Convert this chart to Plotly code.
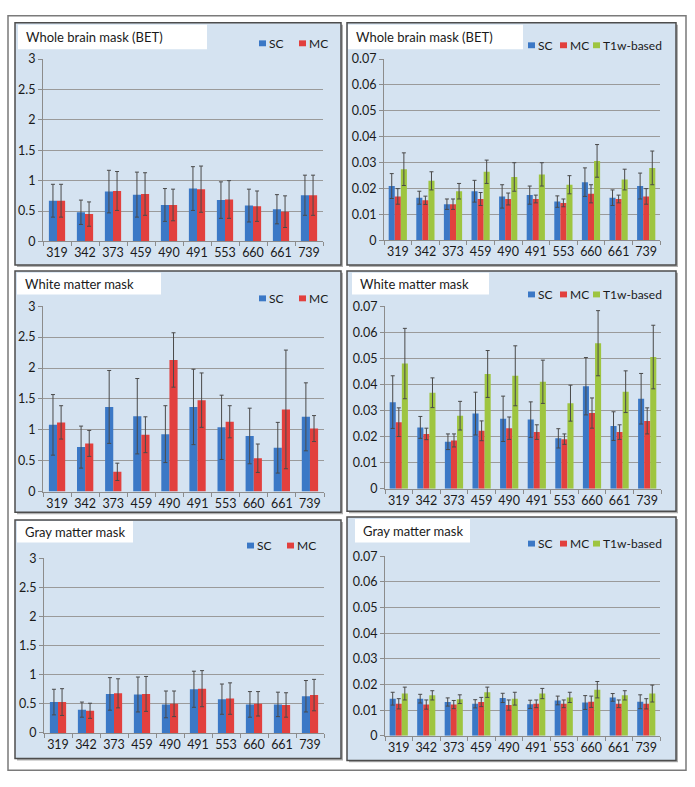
import plotly.graph_objects as go

W, H = 695, 787

subjects = ["319", "342", "373", "459", "490", "491", "553", "660", "661", "739"]

# Whole brain mask (BET) - left (scale 0-3)
wb_sc = [0.67, 0.48, 0.82, 0.77, 0.60, 0.87, 0.68, 0.59, 0.53, 0.76]
wb_sc_err = [0.27, 0.20, 0.35, 0.37, 0.27, 0.36, 0.30, 0.27, 0.24, 0.33]
wb_mc = [0.67, 0.45, 0.83, 0.78, 0.60, 0.86, 0.69, 0.58, 0.49, 0.76]
wb_mc_err = [0.27, 0.20, 0.32, 0.35, 0.26, 0.38, 0.31, 0.25, 0.26, 0.33]

# Whole brain mask (BET) - right (scale 0-0.07)
wb2_sc = [0.0210, 0.0165, 0.0140, 0.0190, 0.0170, 0.0175, 0.0150, 0.0225, 0.0165, 0.0210]
wb2_sc_err = [0.0048, 0.0025, 0.0020, 0.0042, 0.0045, 0.0035, 0.0022, 0.0055, 0.0030, 0.0050]
wb2_mc = [0.0170, 0.0155, 0.0140, 0.0160, 0.0160, 0.0160, 0.0145, 0.0180, 0.0160, 0.0170]
wb2_mc_err = [0.0030, 0.0016, 0.0020, 0.0025, 0.0023, 0.0015, 0.0015, 0.0035, 0.0015, 0.0030]
wb2_t1 = [0.0275, 0.0230, 0.0190, 0.0265, 0.0245, 0.0255, 0.0215, 0.0307, 0.0235, 0.0280]
wb2_t1_err = [0.0063, 0.0035, 0.0030, 0.0045, 0.0055, 0.0045, 0.0035, 0.0063, 0.0040, 0.0065]

# White matter mask - left
wm_sc = [1.08, 0.72, 1.37, 1.22, 0.93, 1.37, 1.04, 0.90, 0.71, 1.21]
wm_sc_err = [0.49, 0.34, 0.59, 0.61, 0.46, 0.61, 0.52, 0.45, 0.41, 0.55]
wm_mc = [1.12, 0.78, 0.32, 0.92, 2.13, 1.48, 1.13, 0.54, 1.33, 1.02]
wm_mc_err = [0.27, 0.21, 0.14, 0.29, 0.44, 0.44, 0.26, 0.23, 0.96, 0.21]

# White matter mask - right
wm2_sc = [0.0332, 0.0235, 0.0180, 0.0288, 0.0268, 0.0265, 0.0193, 0.0393, 0.0240, 0.0345]
wm2_sc_err = [0.0101, 0.0042, 0.0030, 0.0082, 0.0087, 0.0068, 0.0037, 0.0110, 0.0055, 0.0097]
wm2_mc = [0.0255, 0.0210, 0.0185, 0.0222, 0.0232, 0.0217, 0.0190, 0.0290, 0.0217, 0.0260]
wm2_mc_err = [0.0055, 0.0022, 0.0025, 0.0038, 0.0043, 0.0028, 0.0020, 0.0058, 0.0028, 0.0050]
wm2_t1 = [0.0480, 0.0368, 0.0280, 0.0440, 0.0433, 0.0410, 0.0328, 0.0558, 0.0372, 0.0505]
wm2_t1_err = [0.0135, 0.0057, 0.0055, 0.0090, 0.0115, 0.0083, 0.0069, 0.0125, 0.0080, 0.0122]

# Gray matter mask - left
gm_sc = [0.53, 0.40, 0.67, 0.66, 0.49, 0.75, 0.58, 0.49, 0.49, 0.63]
gm_sc_err = [0.22, 0.13, 0.28, 0.30, 0.23, 0.31, 0.26, 0.22, 0.21, 0.27]
gm_mc = [0.53, 0.38, 0.68, 0.67, 0.50, 0.76, 0.59, 0.50, 0.48, 0.65]
gm_mc_err = [0.23, 0.13, 0.25, 0.30, 0.22, 0.31, 0.27, 0.21, 0.21, 0.27]

# Gray matter mask - right
gm2_sc = [0.0145, 0.0145, 0.0132, 0.0125, 0.0148, 0.0123, 0.0138, 0.0130, 0.0150, 0.0133]
gm2_sc_err = [0.0025, 0.0017, 0.0016, 0.0016, 0.0018, 0.0016, 0.0017, 0.0027, 0.0015, 0.0027]
gm2_mc = [0.0125, 0.0122, 0.0122, 0.0132, 0.0120, 0.0125, 0.0125, 0.0133, 0.0125, 0.0125]
gm2_mc_err = [0.0020, 0.0018, 0.0016, 0.0018, 0.0020, 0.0015, 0.0015, 0.0022, 0.0015, 0.0020]
gm2_t1 = [0.0165, 0.0158, 0.0143, 0.0170, 0.0145, 0.0165, 0.0150, 0.0180, 0.0158, 0.0165]
gm2_t1_err = [0.0025, 0.0018, 0.0017, 0.0020, 0.0025, 0.0020, 0.0020, 0.0032, 0.0018, 0.0033]

titles = ["Whole brain mask (BET)", "Whole brain mask (BET)",
          "White matter mask", "White matter mask",
          "Gray matter mask", "Gray matter mask"]

C_SC = "#3b78c6"
C_MC = "#e2403e"
C_T1 = "#9ec540"
ERR = "#4a4a4a"
FONT = "Lato"

panels = [
    dict(box=(15, 15, 341, 262), plot=(43, 52, 323, 238), tbox=(18, 17, 207, 42),
         ymax=3, dtick=0.5, series=[(wb_sc, wb_sc_err, C_SC, "SC"), (wb_mc, wb_mc_err, C_MC, "MC")],
         leg_y=36, leg_x=[262, 302], bw=0.29),
    dict(box=(347, 15, 676, 262), plot=(384, 52, 660, 237), tbox=(348, 17, 523, 42),
         ymax=0.07, dtick=0.01,
         series=[(wb2_sc, wb2_sc_err, C_SC, "SC"), (wb2_mc, wb2_mc_err, C_MC, "MC"),
                 (wb2_t1, wb2_t1_err, C_T1, "T1w-based")],
         leg_y=38, leg_x=[531, 563, 596], bw=0.22),
    dict(box=(15, 268, 341, 514), plot=(43, 304, 324, 493), tbox=(17, 270, 161, 292),
         ymax=3, dtick=0.5, series=[(wm_sc, wm_sc_err, C_SC, "SC"), (wm_mc, wm_mc_err, C_MC, "MC")],
         leg_y=296, leg_x=[262, 302], bw=0.29),
    dict(box=(347, 268, 676, 513), plot=(385, 304, 661, 490), tbox=(352, 270, 489, 292),
         ymax=0.07, dtick=0.01,
         series=[(wm2_sc, wm2_sc_err, C_SC, "SC"), (wm2_mc, wm2_mc_err, C_MC, "MC"),
                 (wm2_t1, wm2_t1_err, C_T1, "T1w-based")],
         leg_y=292, leg_x=[531, 563, 596], bw=0.22),
    dict(box=(15, 522, 341, 765), plot=(44, 561, 324, 739), tbox=(17, 523, 133, 545),
         ymax=3, dtick=0.5, series=[(gm_sc, gm_sc_err, C_SC, "SC"), (gm_mc, gm_mc_err, C_MC, "MC")],
         leg_y=548, leg_x=[250, 290], bw=0.29),
    dict(box=(347, 519, 676, 767), plot=(385, 559, 660, 742), tbox=(355, 521, 470, 545),
         ymax=0.07, dtick=0.01,
         series=[(gm2_sc, gm2_sc_err, C_SC, "SC"), (gm2_mc, gm2_mc_err, C_MC, "MC"),
                 (gm2_t1, gm2_t1_err, C_T1, "T1w-based")],
         leg_y=546, leg_x=[531, 563, 596], bw=0.22),
]


def px(x):
    return x / W


def py(y):
    return 1 - y / H


fig = go.Figure()
shapes = []
annotations = []

# outer frame
shapes.append(dict(type="rect", xref="paper", yref="paper", x0=px(8), x1=px(686), y0=py(777), y1=py(8),
                   line=dict(color="#7a7a7a", width=1.5), fillcolor="white", layer="below"))

layout_axes = {}
for i, p in enumerate(panels, start=1):
    bx0, by0, bx1, by1 = p["box"]
    # shadow
    shapes.append(dict(type="rect", xref="paper", yref="paper", x0=px(bx0 + 2), x1=px(bx1 + 2),
                       y0=py(by1 + 2), y1=py(by0 + 2), line=dict(width=0), fillcolor="#b0b0b0", layer="below"))
    shapes.append(dict(type="rect", xref="paper", yref="paper", x0=px(bx0), x1=px(bx1),
                       y0=py(by1), y1=py(by0), line=dict(color="#4d4d4d", width=1.5),
                       fillcolor="#d5e3f1", layer="below"))
    tx0, ty0, tx1, ty1 = p["tbox"]
    shapes.append(dict(type="rect", xref="paper", yref="paper", x0=px(tx0), x1=px(tx1),
                       y0=py(ty1), y1=py(ty0), line=dict(width=0), fillcolor="white", layer="below"))
    annotations.append(dict(text=titles[i - 1], xref="paper", yref="paper", x=px(tx0 + 6),
                            y=py((ty0 + ty1) / 2), xanchor="left", yanchor="middle", showarrow=False,
                            font=dict(family=FONT, size=13, color="#1a1a1a")))

    xa = "x" if i == 1 else f"x{i}"
    ya = "y" if i == 1 else f"y{i}"
    n = len(p["series"])
    bw = p["bw"]
    for k, (vals, errs, col, name) in enumerate(p["series"]):
        fig.add_trace(go.Bar(x=subjects, y=vals, name=name,
                             marker=dict(color=col, line=dict(color=col, width=0)),
                             width=bw, offset=-n * bw / 2 + k * bw,
                             error_y=dict(type="data", array=errs, symmetric=True, color=ERR,
                                          thickness=1, width=2),
                             xaxis=xa, yaxis=ya, showlegend=False))

    # manual legend
    for (vals, errs, col, name), lx in zip(p["series"], p["leg_x"]):
        shapes.append(dict(type="rect", xref="paper", yref="paper", x0=px(lx - 3), x1=px(lx + 4),
                           y0=py(p["leg_y"] + 3), y1=py(p["leg_y"] - 3), line=dict(width=0), fillcolor=col))
        annotations.append(dict(text=name, xref="paper", yref="paper", x=px(lx + 5), y=py(p["leg_y"]),
                                xanchor="left", yanchor="middle", showarrow=False,
                                font=dict(family=FONT, size=12, color="#1a1a1a")))

    x0, y0, x1, y1 = p["plot"]
    xk = "xaxis" if i == 1 else f"xaxis{i}"
    yk = "yaxis" if i == 1 else f"yaxis{i}"
    layout_axes[xk] = dict(domain=[px(x0), px(x1)], anchor=ya, type="category",
                           categoryorder="array", categoryarray=subjects,
                           showline=True, linecolor="#8c8c8c", linewidth=1,
                           ticks="outside", ticklen=4, tickcolor="#8c8c8c", tickson="boundaries",
                           tickangle=0, showgrid=False,
                           tickfont=dict(family=FONT, size=12.5, color="#1a1a1a"),
                           fixedrange=True)
    layout_axes[yk] = dict(domain=[py(y1), py(y0)], anchor=xa, range=[0, p["ymax"]], dtick=p["dtick"],
                           showline=True, linecolor="#8c8c8c", linewidth=1,
                           ticks="outside", ticklen=4, tickcolor="#8c8c8c",
                           showgrid=True, gridcolor="#9a9a9a", gridwidth=1, zeroline=False,
                           tickfont=dict(family=FONT, size=12.5, color="#1a1a1a"), fixedrange=True)

fig.update_layout(
    width=W, height=H, margin=dict(l=0, r=0, t=0, b=0),
    paper_bgcolor="white", plot_bgcolor="rgba(0,0,0,0)",
    barmode="group", bargap=0.4, bargroupgap=0,
    shapes=shapes, annotations=annotations, showlegend=False,
    **layout_axes,
)

fig.write_html("out.html", config={"displayModeBar": False},
               post_script="document.body.style.margin='0';document.body.style.padding='0';")
